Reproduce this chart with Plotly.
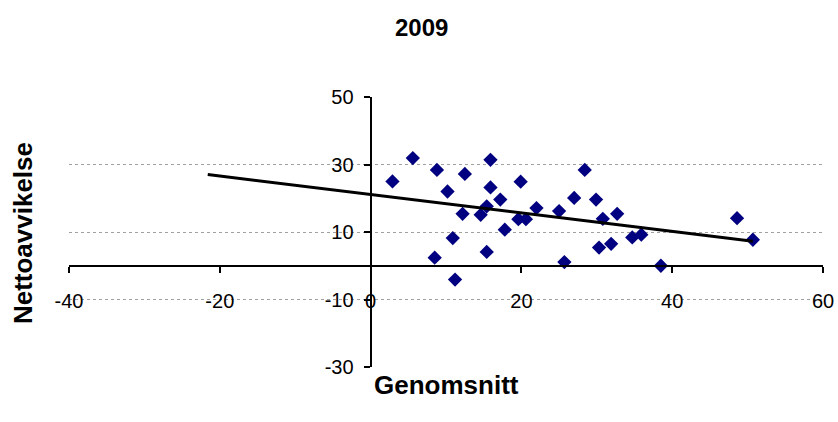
import numpy as np
import plotly.graph_objects as go

# Data
genomsnitt = [2.9, 5.6, 8.8, 12.5, 15.9, 10.2, 15.9, 17.2, 19.9, 15.4, 12.2, 14.6,
              19.6, 20.6, 22.0, 25.0, 17.8, 10.9, 8.5, 15.4, 11.2, 25.7, 27.0, 28.4,
              29.9, 30.3, 30.8, 32.7, 31.9, 34.7, 35.9, 38.5, 48.6, 50.7]
nettoavvikelse = [25.0, 31.9, 28.4, 27.2, 31.4, 22.0, 23.2, 19.6, 24.9, 17.6, 15.4, 15.1,
                  13.8, 13.8, 17.1, 16.2, 10.7, 8.2, 2.4, 4.1, -4.1, 1.1, 20.1, 28.4,
                  19.6, 5.4, 13.9, 15.4, 6.5, 8.4, 9.2, 0.0, 14.1, 7.7]
trend_backward = 24.5  # linear trendline extended backwards (x units)

title_text = "2009"
x_title = "Genomsnitt"
y_title = "Nettoavvikelse"
x_range = [-40, 60]
y_range = [-30, 50]
x_tickvals = [-40, -20, 0, 20, 40, 60]
x_ticktext = ["-40", "-20", "0", "20", "40", "60"]
y_tickvals = [-30, -10, 10, 30, 50]
y_ticktext = ["-30", "-10", "10", "30", "50"]

# Linear trendline fitted to the data
slope, intercept = np.polyfit(genomsnitt, nettoavvikelse, 1)
tx = np.array([min(genomsnitt) - trend_backward, max(genomsnitt)])
ty = slope * tx + intercept

font_family = "Liberation Sans, Arial, sans-serif"

fig = go.Figure()
fig.add_trace(go.Scatter(
    x=genomsnitt, y=nettoavvikelse, mode="markers",
    marker=dict(symbol="diamond", size=11, color="#000080", line=dict(width=0)),
    showlegend=False, hoverinfo="x+y"))
fig.add_trace(go.Scatter(
    x=tx, y=ty, mode="lines", line=dict(color="black", width=3),
    showlegend=False, hoverinfo="skip"))

fig.update_layout(
    width=838, height=422,
    margin=dict(l=69, r=15, t=97, b=55),
    paper_bgcolor="white", plot_bgcolor="white",
    font=dict(family=font_family, size=20, color="black"),
    xaxis=dict(
        range=x_range, tickmode="array", tickvals=x_tickvals, ticktext=x_ticktext,
        anchor="free", position=0.375,
        showline=True, linecolor="black", linewidth=2,
        ticks="outside", ticklen=6, tickwidth=2, tickcolor="black",
        showgrid=False, zeroline=False, ticklabelstandoff=11, automargin=False,
        tickfont=dict(size=20, family=font_family, color="black")),
    yaxis=dict(
        range=y_range, tickmode="array", tickvals=y_tickvals, ticktext=y_ticktext,
        anchor="free", position=0.4,
        showline=True, linecolor="black", linewidth=2,
        ticks="outside", ticklen=6, tickwidth=2, tickcolor="black",
        showgrid=True, gridcolor="#a0a0a0", gridwidth=1, griddash="dot",
        zeroline=False, ticklabelstandoff=6, automargin=False,
        tickfont=dict(size=20, family=font_family, color="black")),
    annotations=[
        dict(text="<b>%s</b>" % title_text, xref="paper", yref="paper",
             x=0.468, y=1.259, showarrow=False, xanchor="center", yanchor="middle",
             font=dict(size=24, family=font_family, color="black")),
        dict(text="<b>%s</b>" % x_title, xref="paper", yref="paper",
             x=0.501, y=-0.067, showarrow=False, xanchor="center", yanchor="middle",
             font=dict(size=26, family=font_family, color="black")),
        dict(text="<b>%s</b>" % y_title, xref="paper", yref="paper",
             x=-0.061, y=0.496, showarrow=False, xanchor="center", yanchor="middle",
             textangle=-90,
             font=dict(size=26, family=font_family, color="black")),
    ],
)

fig.write_html("out.html", config={"displayModeBar": False},
               post_script="document.body.style.margin='0';document.body.style.overflow='hidden';")
